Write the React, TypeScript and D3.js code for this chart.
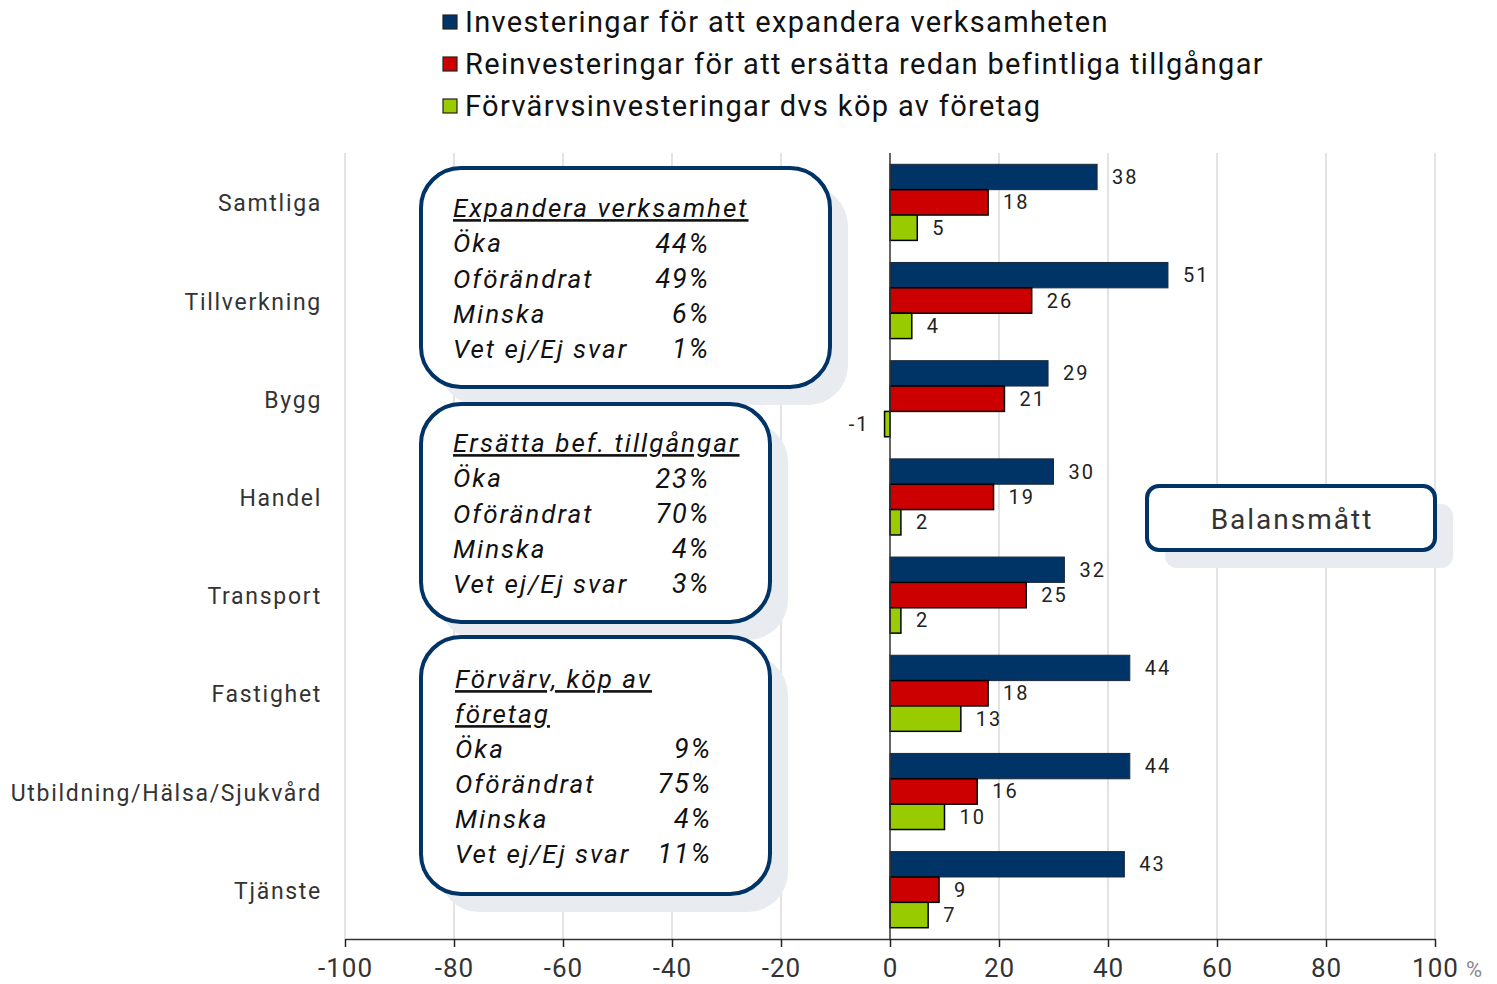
import { useEffect, useRef } from 'react';
import * as d3 from 'd3';

const categories = ['Samtliga', 'Tillverkning', 'Bygg', 'Handel', 'Transport', 'Fastighet', 'Utbildning/Hälsa/Sjukvård', 'Tjänste'];
const seriesNames = [
    'Investeringar för att expandera verksamheten',
    'Reinvesteringar för att ersätta redan befintliga tillgångar',
    'Förvärvsinvesteringar dvs köp av företag',
];
const seriesColors = ['#003366', '#cc0000', '#99cc00'];
const expandera = [38, 51, 29, 30, 32, 44, 44, 43];
const ersatta = [18, 26, 21, 19, 25, 18, 16, 9];
const forvarv = [5, 4, -1, 2, 2, 13, 10, 7];
const xTicks = [-100, -80, -60, -40, -20, 0, 20, 40, 60, 80, 100];

const boxes = [
    { title: ['Expandera verksamhet'], rows: [['Öka', '44%'], ['Oförändrat', '49%'], ['Minska', '6%'], ['Vet ej/Ej svar', '1%']] },
    { title: ['Ersätta bef. tillgångar'], rows: [['Öka', '23%'], ['Oförändrat', '70%'], ['Minska', '4%'], ['Vet ej/Ej svar', '3%']] },
    { title: ['Förvärv, köp av', 'företag'], rows: [['Öka', '9%'], ['Oförändrat', '75%'], ['Minska', '4%'], ['Vet ej/Ej svar', '11%']] },
];

const FONT = 'Roboto, "DejaVu Sans", sans-serif';

export default function App() {
    const svgRef = useRef<SVGSVGElement>(null);

    useEffect(() => {
        if (!svgRef.current) return;
        const width = 1497, height = 984;
        const svg = d3.select(svgRef.current);
        svg.selectAll('*').remove();

        const x = d3.scaleLinear().domain([-100, 100]).range([345, 1435]);
        const y = d3.scaleBand<string>().domain(categories).range([153, 939])
            .paddingInner(0.225).paddingOuter(0.115);
        const inner = d3.scaleBand<number>().domain([0, 1, 2]).range([0, y.bandwidth()]);
        const values = [expandera, ersatta, forvarv];

        // gridlines
        svg.append('g').selectAll('line').data(xTicks.filter(t => t !== 0)).join('line')
            .attr('x1', d => x(d)).attr('x2', d => x(d))
            .attr('y1', 153).attr('y2', 939)
            .attr('stroke', '#c8c8c8').attr('stroke-width', 1);

        // info boxes (shadow + box)
        const boxGeo = [
            { x: 421, y: 168, w: 409, h: 219, top: 208, step: 35.2 },
            { x: 421, y: 404, w: 349, h: 218, top: 443, step: 35.2 },
            { x: 421, y: 637, w: 349, h: 257, top: 679, step: 35 },
        ];
        boxes.forEach((b, i) => {
            const g = boxGeo[i];
            svg.append('rect').attr('x', g.x + 18).attr('y', g.y + 18).attr('width', g.w).attr('height', g.h)
                .attr('rx', 40).attr('fill', '#e8ebef');
        });
        boxes.forEach((b, i) => {
            const g = boxGeo[i];
            svg.append('rect').attr('x', g.x).attr('y', g.y).attr('width', g.w).attr('height', g.h)
                .attr('rx', 40).attr('fill', '#fff').attr('stroke', '#003366').attr('stroke-width', 4);
            const tx = i === 2 ? 455 : 453;
            const valX = i === 2 ? 712 : 710;
            b.title.forEach((t, k) => {
                svg.append('text').attr('x', tx).attr('y', g.top + k * g.step).attr('dy', '0.35em')
                    .attr('font-family', FONT).attr('font-style', 'italic').attr('font-size', 26)
                    .attr('letter-spacing', 2).attr('fill', '#111').attr('text-decoration', 'underline').text(t);
            });
            b.rows.forEach((r, k) => {
                const yy = g.top + (b.title.length + k) * g.step;
                svg.append('text').attr('x', tx).attr('y', yy).attr('dy', '0.35em')
                    .attr('font-family', FONT).attr('font-style', 'italic').attr('font-size', 26)
                    .attr('letter-spacing', 2).attr('fill', '#111').text(r[0]);
                svg.append('text').attr('x', valX).attr('y', yy).attr('dy', '0.35em')
                    .attr('text-anchor', 'end')
                    .attr('font-family', FONT).attr('font-style', 'italic').attr('font-size', 27)
                    .attr('letter-spacing', 2).attr('fill', '#111').text(r[1]);
            });
        });

        // Balansmått box
        svg.append('rect').attr('x', 1165).attr('y', 504).attr('width', 288).attr('height', 64)
            .attr('rx', 12).attr('fill', '#e8ebef');
        svg.append('rect').attr('x', 1147).attr('y', 486).attr('width', 288).attr('height', 64)
            .attr('rx', 12).attr('fill', '#fff').attr('stroke', '#003366').attr('stroke-width', 4);
        svg.append('text').attr('x', 1292).attr('y', 519).attr('dy', '0.35em').attr('text-anchor', 'middle')
            .attr('font-family', FONT).attr('font-size', 28).attr('letter-spacing', 2).attr('fill', '#333')
            .text('Balansmått');

        // bars
        categories.forEach((c, ci) => {
            values.forEach((vals, si) => {
                const v = vals[ci];
                const by = (y(c) ?? 0) + (inner(si) ?? 0);
                svg.append('rect')
                    .attr('x', x(Math.min(0, v))).attr('y', by)
                    .attr('width', Math.abs(x(v) - x(0))).attr('height', inner.bandwidth())
                    .attr('fill', seriesColors[si])
                    .attr('stroke', si === 0 ? '#1a2a3a' : '#000').attr('stroke-width', si === 0 ? 1 : 1.5);
                svg.append('text')
                    .attr('x', v >= 0 ? x(v) + 15 : x(v) - 15)
                    .attr('y', by + inner.bandwidth() / 2).attr('dy', '0.35em')
                    .attr('text-anchor', v >= 0 ? 'start' : 'end')
                    .attr('font-family', FONT).attr('font-size', 20).attr('fill', '#222')
                    .attr('letter-spacing', 2)
                    .text(v);
            });
        });

        // zero line
        svg.append('line').attr('x1', x(0)).attr('x2', x(0)).attr('y1', 153).attr('y2', 939)
            .attr('stroke', '#333').attr('stroke-width', 1.5);

        // category labels
        svg.append('g').selectAll('text').data(categories).join('text')
            .attr('x', 322).attr('y', d => (y(d) ?? 0) + y.bandwidth() / 2 + 1).attr('dy', '0.35em')
            .attr('text-anchor', 'end').attr('font-family', FONT).attr('font-size', 23).attr('fill', '#333')
            .attr('letter-spacing', 1.7)
            .text(d => d);

        // x axis
        const axis = svg.append('g').attr('transform', 'translate(0,939)')
            .call(d3.axisBottom(x).tickValues(xTicks).tickFormat(d => String(d)).tickSize(8).tickSizeOuter(0).tickPadding(12));
        axis.select('.domain').attr('stroke', '#333').attr('stroke-width', 1.5);
        axis.selectAll('.tick line').attr('stroke', '#222').attr('stroke-width', 1.5);
        axis.selectAll('.tick text').attr('font-family', FONT).attr('font-size', 26).attr('fill', '#333')
            .attr('letter-spacing', 1);
        svg.append('text').attr('x', 1466).attr('y', 969).attr('dy', '0.35em').attr('text-anchor', 'start')
            .attr('font-family', FONT).attr('font-size', 22).attr('fill', '#888').text('%');

        // legend
        const leg = svg.append('g').selectAll('g').data(seriesNames).join('g')
            .attr('transform', (_, i) => `translate(443,${22 + i * 42})`);
        leg.append('rect').attr('x', 0).attr('y', -7).attr('width', 14).attr('height', 14)
            .attr('fill', (_, i) => seriesColors[i]).attr('stroke', '#222').attr('stroke-width', 1.2);
        leg.append('text').attr('x', 22).attr('y', 0).attr('dy', '0.35em')
            .attr('font-family', FONT).attr('font-size', 29).attr('fill', '#111')
            .attr('letter-spacing', 1.35)
            .text(d => d);

        svg.attr('width', width).attr('height', height);
    }, []);

    return (
        <svg ref={svgRef} width={1497} height={984} style={{ position: 'absolute', left: 0, top: 0, background: '#fff' }} />
    );
}
